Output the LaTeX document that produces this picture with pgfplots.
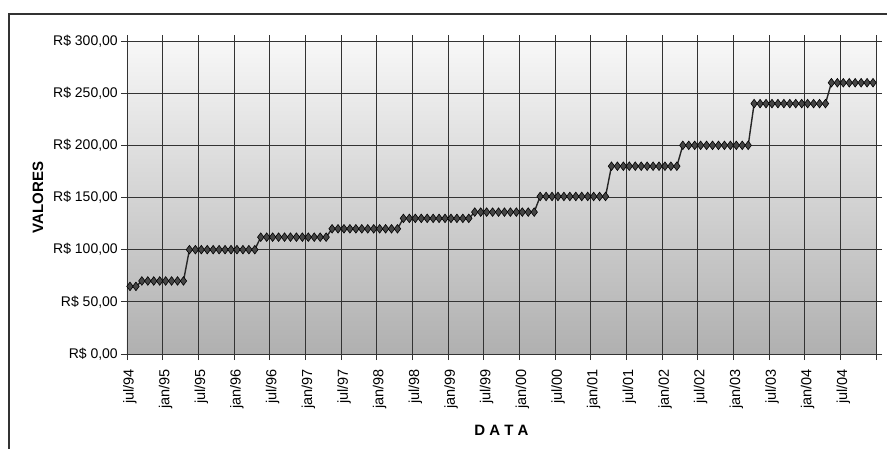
\documentclass[border=0pt]{standalone}
\usepackage{pgfplots}
\pgfplotsset{compat=1.18}
\usepackage{fontspec}
\setmainfont{Liberation Sans}
\definecolor{gridc}{HTML}{333333}
\definecolor{mfill}{HTML}{454545}
\begin{document}
\begin{tikzpicture}
\useasboundingbox (0,0) rectangle (887pt,448pt);
\draw[line width=1.6pt, color=gridc] (9pt,-20pt) -- (9pt,434pt) -- (900pt,434pt);
\begin{axis}[
  at={(127pt,94pt)}, anchor=south west,
  scale only axis, width=749pt, height=313pt,
  xmin=0, xmax=126, ymin=0, ymax=300,
  axis background/.style={top color=white!97!black, bottom color=white!69!black},
  axis line style={draw=gridc, line width=0.8pt},
  xtick={0,6,...,126},
  xticklabels={jul/94,jan/95,jul/95,jan/96,jul/96,jan/97,jul/97,jan/98,jul/98,jan/99,jul/99,jan/00,jul/00,jan/01,jul/01,jan/02,jul/02,jan/03,jul/03,jan/04,jul/04,{}},
  ytick={0,50,...,300},
  yticklabels={{R\$ 0,00},{R\$ 50,00},{R\$ 100,00},{R\$ 150,00},{R\$ 200,00},{R\$ 250,00},{R\$ 300,00}},
  tick align=outside, major tick length=6pt,
  tick style={draw=gridc, line width=0.8pt},
  xmajorgrids, ymajorgrids,
  grid style={draw=gridc, line width=0.9pt},
  xticklabel style={rotate=90, anchor=east, yshift=-3pt, xshift=-8pt, font=\fontsize{14.5}{14.5}\selectfont, inner sep=1pt},
  yticklabel style={font=\fontsize{14}{14}\selectfont, inner sep=2pt, xshift=-1pt},
  xlabel={D A T A}, ylabel={VALORES},
  xlabel style={at={(axis description cs:0.5,-0.243)}, anchor=center, font=\bfseries\fontsize{15}{15}\selectfont},
  ylabel style={at={(axis description cs:-0.1188,0.5)}, anchor=center, rotate=0, font=\bfseries\fontsize{15}{15}\selectfont},
  clip=false,
]
\addplot[color=black!85, line width=1.4pt, mark=diamond*, mark size=4.3pt,
  mark options={fill=mfill, draw=black, line width=0.6pt}] coordinates {
(0.5,64.79)(1.5,64.79)
(2.5,70)(3.5,70)(4.5,70)(5.5,70)(6.5,70)(7.5,70)(8.5,70)(9.5,70)
(10.5,100)(11.5,100)(12.5,100)(13.5,100)(14.5,100)(15.5,100)(16.5,100)(17.5,100)(18.5,100)(19.5,100)(20.5,100)(21.5,100)
(22.5,112)(23.5,112)(24.5,112)(25.5,112)(26.5,112)(27.5,112)(28.5,112)(29.5,112)(30.5,112)(31.5,112)(32.5,112)(33.5,112)
(34.5,120)(35.5,120)(36.5,120)(37.5,120)(38.5,120)(39.5,120)(40.5,120)(41.5,120)(42.5,120)(43.5,120)(44.5,120)(45.5,120)
(46.5,130)(47.5,130)(48.5,130)(49.5,130)(50.5,130)(51.5,130)(52.5,130)(53.5,130)(54.5,130)(55.5,130)(56.5,130)(57.5,130)
(58.5,136)(59.5,136)(60.5,136)(61.5,136)(62.5,136)(63.5,136)(64.5,136)(65.5,136)(66.5,136)(67.5,136)(68.5,136)
(69.5,151)(70.5,151)(71.5,151)(72.5,151)(73.5,151)(74.5,151)(75.5,151)(76.5,151)(77.5,151)(78.5,151)(79.5,151)(80.5,151)
(81.5,180)(82.5,180)(83.5,180)(84.5,180)(85.5,180)(86.5,180)(87.5,180)(88.5,180)(89.5,180)(90.5,180)(91.5,180)(92.5,180)
(93.5,200)(94.5,200)(95.5,200)(96.5,200)(97.5,200)(98.5,200)(99.5,200)(100.5,200)(101.5,200)(102.5,200)(103.5,200)(104.5,200)
(105.5,240)(106.5,240)(107.5,240)(108.5,240)(109.5,240)(110.5,240)(111.5,240)(112.5,240)(113.5,240)(114.5,240)(115.5,240)(116.5,240)(117.5,240)
(118.5,260)(119.5,260)(120.5,260)(121.5,260)(122.5,260)(123.5,260)(124.5,260)(125.5,260)
};
\end{axis}
\end{tikzpicture}
\end{document}
